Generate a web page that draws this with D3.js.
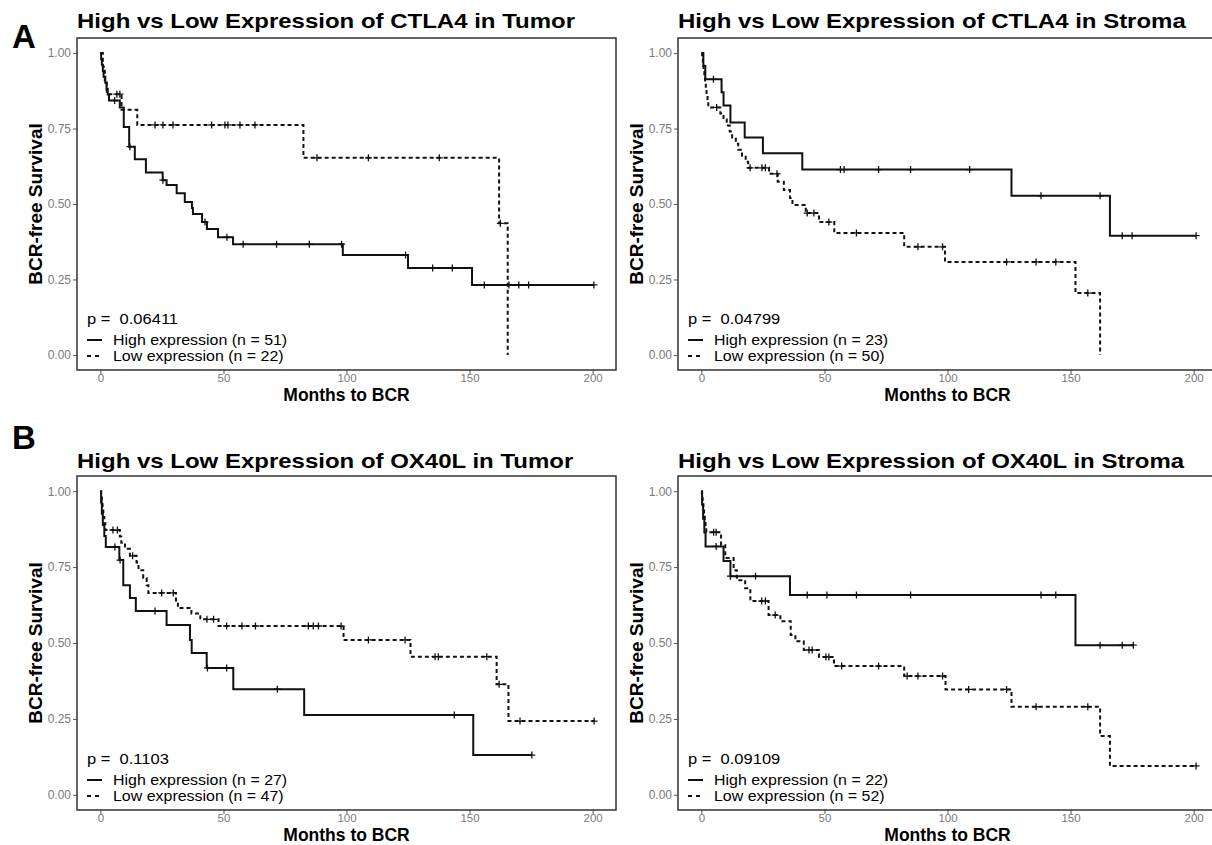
<!DOCTYPE html>
<html>
<head>
<meta charset="utf-8">
<script src="https://cdn.jsdelivr.net/npm/d3@7"></script>
<style>
  body { margin: 0; background: #fff; }
  svg { display: block; font-family: "Liberation Sans", Arial, sans-serif; }
</style>
</head>
<body>
<svg id="chart"></svg>
<script>
// axes
const xTicks = [0, 50, 100, 150, 200]
const yTicks = [0, 0.25, 0.5, 0.75, 1]

// panel texts
const panelTitles = [
  'High vs Low Expression of CTLA4 in Tumor',
  'High vs Low Expression of CTLA4 in Stroma',
  'High vs Low Expression of OX40L in Tumor',
  'High vs Low Expression of OX40L in Stroma'
]
const pValues = ['0.06411', '0.04799', '0.1103', '0.09109']
const highN = [51, 23, 27, 22]
const lowN = [22, 50, 47, 52]

// CTLA4 - tumor
const ctla4TumorHighTime = [0.3, 0.6, 1, 1.3, 2, 2.5, 3, 3.5, 7.9, 9.5, 11.7, 14, 18.5, 25.3, 26.9, 31, 34.3, 37.2, 37.6, 41.3, 43.3, 47.8, 53.9, 98.5, 125, 151]
const ctla4TumorHighSurv = [0.980, 0.961, 0.941, 0.922, 0.902, 0.882, 0.863, 0.843, 0.82, 0.755, 0.69, 0.648, 0.604, 0.579, 0.563, 0.536, 0.507, 0.487, 0.467, 0.44, 0.417, 0.39, 0.367, 0.331, 0.288, 0.232]
const ctla4TumorHighCensor = [5.8, 12, 25.4, 42.5, 51.4, 58, 71.6, 84.9, 98, 124, 135, 143, 156, 166, 170, 174, 200.5]
const ctla4TumorLowTime = [1, 1.8, 2.6, 8.6, 15, 82.5, 162, 165.5]
const ctla4TumorLowSurv = [0.955, 0.909, 0.864, 0.812, 0.762, 0.653, 0.436, 0]
const ctla4TumorLowCensor = [6.7, 7.9, 22.2, 25.4, 29.5, 45.2, 50.6, 51.8, 56.7, 62.8, 88, 108.9, 137.7, 162.5]

// CTLA4 - stroma
const ctla4StromaHighTime = [0.8, 1.6, 8.2, 9, 11.8, 17.6, 25, 41, 126, 166]
const ctla4StromaHighSurv = [0.957, 0.913, 0.870, 0.826, 0.770, 0.720, 0.668, 0.614, 0.527, 0.395]
const ctla4StromaHighCensor = [4.9, 56.5, 58, 72, 85, 109, 138, 162, 171, 175, 201]
const ctla4StromaLowTime = [0.3, 0.6, 0.9, 1.2, 1.5, 1.8, 2.1, 2.5, 2.8, 7.7, 9, 10.3, 11.5, 12.5, 14, 15, 16.5, 18, 19, 27.5, 31, 33.5, 36, 37, 42.4, 47.8, 54, 82.4, 99, 152, 162]
const ctla4StromaLowSurv = [0.98, 0.96, 0.94, 0.92, 0.90, 0.88, 0.86, 0.84, 0.82, 0.80, 0.78, 0.76, 0.74, 0.72, 0.70, 0.68, 0.66, 0.64, 0.62, 0.60, 0.574, 0.546, 0.52, 0.497, 0.47, 0.44, 0.404, 0.358, 0.308, 0.205, 0]
const ctla4StromaLowCensor = [6.2, 19.8, 24.6, 26, 30.7, 43, 45.7, 51.8, 63, 88, 98, 124, 136, 144, 157]

// OX40L - tumor
const ox40lTumorHighTime = [0.3, 0.6, 1, 1.6, 2.2, 7.7, 9.3, 12, 14.4, 26.9, 36.4, 37.1, 43.2, 54, 82.8, 151.5]
const ox40lTumorHighSurv = [0.963, 0.926, 0.889, 0.852, 0.816, 0.773, 0.69, 0.648, 0.605, 0.559, 0.51, 0.467, 0.418, 0.348, 0.263, 0.131]
const ox40lTumorHighCensor = [5.9, 8, 22.2, 43.5, 51.3, 71.9, 143.8, 175.3]
const ox40lTumorLowTime = [0.3, 0.6, 0.9, 1.2, 1.6, 2, 7.9, 8.5, 10, 12, 14.7, 15.5, 17.4, 18.8, 19.5, 30.7, 31.5, 37, 40.6, 48, 98.8, 126, 161, 165.8]
const ox40lTumorLowSurv = [0.979, 0.957, 0.936, 0.915, 0.894, 0.872, 0.851, 0.83, 0.81, 0.787, 0.765, 0.74, 0.714, 0.69, 0.665, 0.64, 0.615, 0.597, 0.578, 0.556, 0.51, 0.455, 0.364, 0.243]
const ox40lTumorLowCensor = [5.1, 6.9, 13.1, 24.9, 29.6, 43.3, 46, 51.3, 57.5, 63, 84.5, 86.5, 88.6, 97.8, 108.9, 123.8, 136, 137.3, 157, 162, 170.5, 200.6]

// OX40L - stroma
const ox40lStromaHighTime = [0.3, 0.7, 1.2, 1.7, 9, 11.8, 36, 152]
const ox40lStromaHighSurv = [0.955, 0.909, 0.864, 0.818, 0.77, 0.72, 0.658, 0.493]
const ox40lStromaHighCensor = [6, 11.8, 22, 43, 51, 63, 85, 138, 144, 162, 171, 175.5]
const ox40lStromaLowTime = [0.2, 0.5, 0.8, 1.1, 1.4, 1.7, 2, 8, 9.7, 13.1, 14.4, 17.8, 19.9, 27.3, 32.1, 36.3, 38.2, 41.6, 47.8, 53.9, 82.4, 99.2, 126, 162, 166]
const ox40lStromaLowSurv = [0.981, 0.962, 0.942, 0.923, 0.904, 0.885, 0.865, 0.822, 0.78, 0.74, 0.707, 0.68, 0.638, 0.592, 0.572, 0.526, 0.506, 0.477, 0.454, 0.424, 0.391, 0.347, 0.29, 0.194, 0.095]
const ox40lStromaLowCensor = [5, 6, 24.5, 26, 30, 43.7, 45, 50.6, 51.8, 57, 72, 83.6, 88, 98, 108.6, 124, 136, 157, 201]

const panelSeries = [
  { high: [ctla4TumorHighTime, ctla4TumorHighSurv, ctla4TumorHighCensor], low: [ctla4TumorLowTime, ctla4TumorLowSurv, ctla4TumorLowCensor] },
  { high: [ctla4StromaHighTime, ctla4StromaHighSurv, ctla4StromaHighCensor], low: [ctla4StromaLowTime, ctla4StromaLowSurv, ctla4StromaLowCensor] },
  { high: [ox40lTumorHighTime, ox40lTumorHighSurv, ox40lTumorHighCensor], low: [ox40lTumorLowTime, ox40lTumorLowSurv, ox40lTumorLowCensor] },
  { high: [ox40lStromaHighTime, ox40lStromaHighSurv, ox40lStromaHighCensor], low: [ox40lStromaLowTime, ox40lStromaLowSurv, ox40lStromaLowCensor] }
]

// layout
const width = 1212
const height = 845
const rows = [
  { top: 38, bottom: 370, titleY: 28, letter: 'A', letterY: 48 },
  { top: 476, bottom: 810, titleY: 468, letter: 'B', letterY: 449 }
]
const cols = [{ left: 77, right: 616 }, { left: 678, right: 1217 }]
const titleScale = 1.2
const legendScale = 1.14

const svg = d3.select('#chart').attr('width', width).attr('height', height)

// value of a step curve at time t
function survAt(times, surv, t) {
  let s = 1
  times.forEach((tt, i) => { if (tt <= t) s = surv[i] })
  return s
}

function drawCurve(g, x, y, series, dashed) {
  const [times, surv, censor] = series
  const end = Math.max(times[times.length - 1], censor[censor.length - 1])
  const pts = [[0, 1]].concat(times.map((t, i) => [t, surv[i]]))
  pts.push([end, surv[surv.length - 1]])
  const line = d3.line().x(d => x(d[0])).y(d => y(d[1])).curve(d3.curveStepAfter)
  g.append('path')
    .attr('d', line(pts))
    .attr('fill', 'none')
    .attr('stroke', '#111')
    .attr('stroke-width', 2)
    .attr('stroke-dasharray', dashed ? '4,3' : null)

  // censor marks
  g.selectAll(null)
    .data(censor)
    .enter()
    .append('path')
    .attr('d', t => {
      const cx = x(t), cy = y(survAt(times, surv, t))
      return `M${cx - 3.5},${cy}H${cx + 3.5}M${cx},${cy - 3.5}V${cy + 3.5}`
    })
    .attr('stroke', '#111')
    .attr('stroke-width', 1.3)
}

function drawPanel(i) {
  const row = rows[Math.floor(i / 2)]
  const col = cols[i % 2]
  const x = d3.scaleLinear().domain([-9.5, 209.5]).range([col.left, col.right])
  const y = d3.scaleLinear().domain([-0.05, 1.05]).range([row.bottom, row.top])
  const g = svg.append('g')

  // title
  g.append('text')
    .attr('transform', `translate(${col.left},${row.titleY}) scale(${titleScale},1)`)
    .attr('font-size', 20)
    .attr('font-weight', 'bold')
    .text(panelTitles[i])

  // y axis
  const yAxis = g.append('g')
    .attr('transform', `translate(${col.left},0)`)
    .call(d3.axisLeft(y).tickValues(yTicks).tickFormat(d3.format('.2f')).tickSize(4).tickPadding(2))
  yAxis.select('.domain').remove()
  yAxis.selectAll('line').attr('stroke', '#555')
  yAxis.selectAll('text').attr('fill', '#7a7a7a').attr('font-size', 12).attr('font-family', null)

  // x axis
  const xAxis = g.append('g')
    .attr('transform', `translate(0,${row.bottom})`)
    .call(d3.axisBottom(x).tickValues(xTicks).tickSize(4).tickPadding(0))
  xAxis.select('.domain').remove()
  xAxis.selectAll('line').attr('stroke', '#555')
  xAxis.selectAll('text').attr('fill', '#7a7a7a').attr('font-size', 11.5).attr('font-family', null)

  // axis titles
  g.append('text')
    .attr('x', (col.left + col.right) / 2)
    .attr('y', row.bottom + 30.5)
    .attr('text-anchor', 'middle')
    .attr('font-size', 17.5)
    .attr('font-weight', 'bold')
    .text('Months to BCR')
  g.append('text')
    .attr('transform', `translate(${col.left - 35},${(row.top + row.bottom) / 2}) rotate(-90)`)
    .attr('text-anchor', 'middle')
    .attr('font-size', 19)
    .attr('font-weight', 'bold')
    .text('BCR-free Survival')

  // curves
  drawCurve(g, x, y, panelSeries[i].high, false)
  drawCurve(g, x, y, panelSeries[i].low, true)

  // panel border
  g.append('rect')
    .attr('x', col.left).attr('y', row.top)
    .attr('width', col.right - col.left).attr('height', row.bottom - row.top)
    .attr('fill', 'none').attr('stroke', '#333').attr('stroke-width', 1.5)

  // legend
  const lx = col.left + 10
  g.append('text')
    .attr('transform', `translate(${lx},${row.bottom - 46}) scale(${legendScale},1)`)
    .attr('font-size', 14.5)
    .style('white-space', 'pre')
    .text(`p =  ${pValues[i]}`)
  const items = [
    { label: `High expression (n = ${highN[i]})`, dash: null, y: row.bottom - 25 },
    { label: `Low expression (n = ${lowN[i]})`, dash: '4,4', y: row.bottom - 9 }
  ]
  items.forEach(it => {
    g.append('line')
      .attr('x1', lx).attr('x2', lx + 15)
      .attr('y1', it.y - 5).attr('y2', it.y - 5)
      .attr('stroke', '#111').attr('stroke-width', 2)
      .attr('stroke-dasharray', it.dash)
    g.append('text')
      .attr('transform', `translate(${lx + 26},${it.y}) scale(${legendScale},1)`)
      .attr('font-size', 14)
      .text(it.label)
  })
}

panelTitles.forEach((t, i) => drawPanel(i))

// panel letters
svg.selectAll('.panel-letter')
  .data(rows)
  .enter()
  .append('text')
  .attr('class', 'panel-letter')
  .attr('x', 12)
  .attr('y', d => d.letterY)
  .attr('font-size', 33)
  .attr('font-weight', 'bold')
  .text(d => d.letter)
</script>
</body>
</html>
